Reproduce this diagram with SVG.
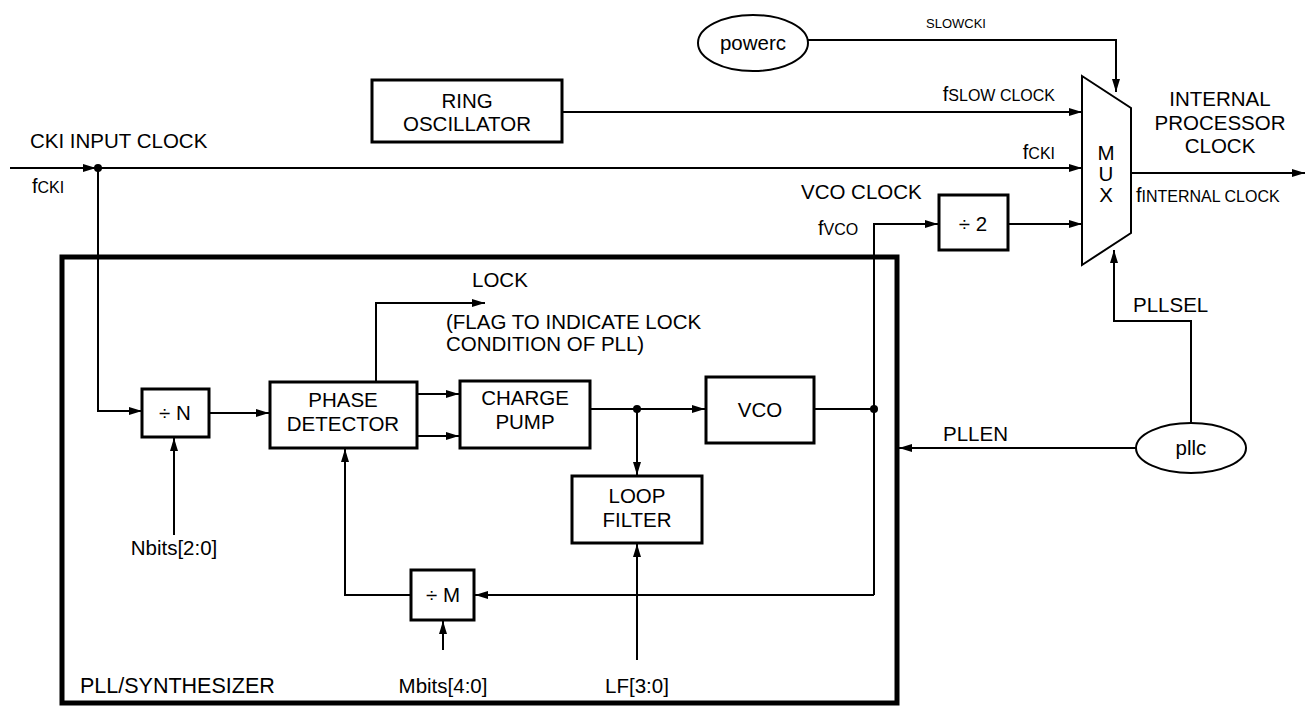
<svg xmlns="http://www.w3.org/2000/svg" width="1310" height="707" viewBox="0 0 1310 707">
<defs>
<marker id="arr" viewBox="0 0 13 8" refX="13" refY="4" markerWidth="13" markerHeight="8" markerUnits="userSpaceOnUse" orient="auto">
<path d="M0,0 L13,4 L0,8 z" fill="#000"/>
</marker>
<style>
text{font-family:"Liberation Sans",Arial,sans-serif;fill:#000}
.t{font-size:20.5px}
.s{font-size:13px}
.sub{font-size:16px}
.f{font-size:20px}
.c{text-anchor:middle}
.box{fill:#fff;stroke:#000;stroke-width:3}
.ln{fill:none;stroke:#000;stroke-width:2}
.ar{marker-end:url(#arr)}
.dot{fill:#000}
</style>
</defs>
<rect width="1310" height="707" fill="#fff"/>

<g id="pll">
<rect x="62" y="257" width="835" height="446" fill="none" stroke="#000" stroke-width="5"/>
<text class="t" x="80" y="693" style="font-size:21.5px">PLL/SYNTHESIZER</text>
</g>

<g id="connectors">
<path class="ln ar" d="M808,40 H1116 V92"/>
<path class="ln ar" d="M562,112 H1082"/>
<path class="ln ar" d="M10,168 H96"/>
<path class="ln ar" d="M96,168 H1082"/>
<path class="ln ar" d="M1131,173 H1305"/>
<path class="ln ar" d="M98,168 V411 H142"/>
<path class="ln ar" d="M174,535 V438"/>
<path class="ln ar" d="M209,413 H269"/>
<path class="ln ar" d="M376,382 V303 H485"/>
<path class="ln ar" d="M417,394 H459"/>
<path class="ln ar" d="M417,436 H459"/>
<path class="ln ar" d="M590,409 H705"/>
<path class="ln ar" d="M637,409 V475"/>
<path class="ln" d="M814,409 H874"/>
<path class="ln ar" d="M874,595 V224 H938"/>
<path class="ln ar" d="M874,595 H475"/>
<path class="ln ar" d="M411,595 H345 V449"/>
<path class="ln ar" d="M443,650 V621"/>
<path class="ln ar" d="M637,660 V544"/>
<path class="ln ar" d="M1008,224 H1082"/>
<path class="ln ar" d="M1136,448 H899"/>
<path class="ln ar" d="M1191,423 V321 H1114 V250"/>
<circle class="dot" cx="98" cy="168" r="4"/>
<circle class="dot" cx="637" cy="409" r="4"/>
<circle class="dot" cx="874" cy="409" r="4"/>
</g>

<g id="labels">
<text class="s c" x="956" y="28">SLOWCKI</text>
<text x="1055" y="101" text-anchor="end"><tspan class="f">f</tspan><tspan class="sub">SLOW CLOCK</tspan></text>
<text x="1055" y="159" text-anchor="end"><tspan class="f">f</tspan><tspan class="sub">CKI</tspan></text>
<text class="t" x="30" y="148">CKI INPUT CLOCK</text>
<text x="32" y="193"><tspan class="f">f</tspan><tspan class="sub">CKI</tspan></text>
<text class="t c" x="1220" y="106">INTERNAL</text>
<text class="t c" x="1220" y="130">PROCESSOR</text>
<text class="t c" x="1220" y="153">CLOCK</text>
<text x="1136" y="202"><tspan class="f">f</tspan><tspan class="sub">INTERNAL CLOCK</tspan></text>
<text class="t" x="801" y="199">VCO CLOCK</text>
<text x="818" y="235"><tspan class="f">f</tspan><tspan class="sub">VCO</tspan></text>
<text class="t" x="472" y="287">LOCK</text>
<text class="t" x="446" y="329">(FLAG TO INDICATE LOCK</text>
<text class="t" x="446" y="351">CONDITION OF PLL)</text>
<text class="t c" x="174" y="555">Nbits[2:0]</text>
<text class="t c" x="443" y="693">Mbits[4:0]</text>
<text class="t c" x="637" y="693">LF[3:0]</text>
<text class="t" x="943" y="441">PLLEN</text>
<text class="t" x="1133" y="312">PLLSEL</text>
</g>

<g id="powerc">
<ellipse cx="753" cy="43" rx="55" ry="28" fill="#fff" stroke="#000" stroke-width="2"/>
<text class="t c" x="753" y="50">powerc</text>
</g>

<g id="ring">
<rect class="box" x="372" y="80" width="190" height="62"/>
<text class="t c" x="467" y="108">RING</text>
<text class="t c" x="467" y="131">OSCILLATOR</text>
</g>

<g id="mux">
<polygon points="1082,76 1131,108 1131,233 1082,265" fill="#fff" stroke="#000" stroke-width="2"/>
<text class="t c" x="1106" y="160">M</text>
<text class="t c" x="1106" y="181">U</text>
<text class="t c" x="1106" y="202">X</text>
</g>

<g id="div2">
<rect class="box" x="939" y="195" width="69" height="55"/>
<text class="t c" x="973" y="231">÷ 2</text>
</g>

<g id="divN">
<rect class="box" x="142" y="389" width="67" height="48"/>
<text class="t c" x="175" y="420">÷ N</text>
</g>

<g id="phase">
<rect class="box" x="270" y="382" width="147" height="66"/>
<text class="t c" x="343" y="407">PHASE</text>
<text class="t c" x="343" y="431">DETECTOR</text>
</g>

<g id="charge">
<rect class="box" x="460" y="381" width="130" height="67"/>
<text class="t c" x="525" y="405">CHARGE</text>
<text class="t c" x="525" y="429">PUMP</text>
</g>

<g id="vco">
<rect class="box" x="706" y="377" width="108" height="66"/>
<text class="t c" x="760" y="417">VCO</text>
</g>

<g id="loop">
<rect class="box" x="572" y="476" width="130" height="67"/>
<text class="t c" x="637" y="503">LOOP</text>
<text class="t c" x="637" y="527">FILTER</text>
</g>

<g id="divM">
<rect class="box" x="411" y="570" width="63" height="50"/>
<text class="t c" x="443" y="602">÷ M</text>
</g>

<g id="pllc">
<ellipse cx="1191" cy="448" rx="55" ry="25" fill="#fff" stroke="#000" stroke-width="2"/>
<text class="t c" x="1191" y="455">pllc</text>
</g>
</svg>
